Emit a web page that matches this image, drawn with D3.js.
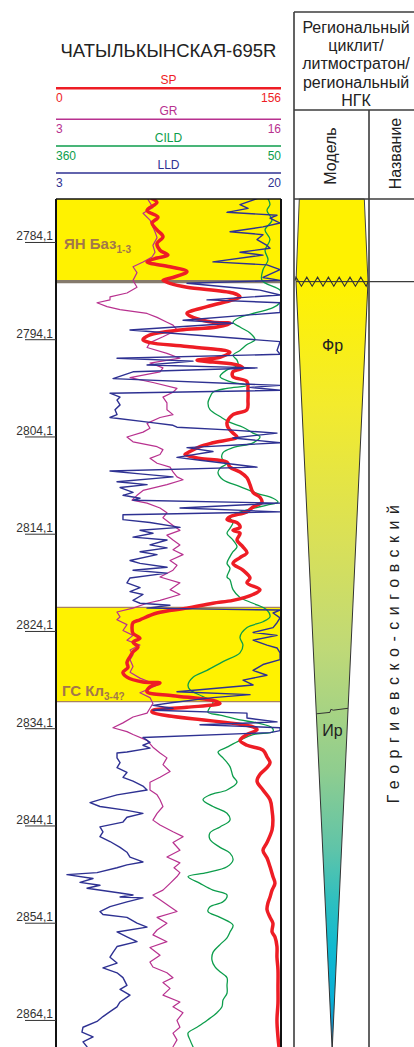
<!DOCTYPE html>
<html>
<head>
<meta charset="utf-8">
<script src="https://cdn.jsdelivr.net/npm/d3@7"></script>
<style>
  html, body { margin: 0; padding: 0; background: #fff; }
  svg { display: block; font-family: "Liberation Sans", Arial, sans-serif; }
</style>
</head>
<body>
<svg id="chart" width="414" height="1047"></svg>
<script>
// ---- Well and log window ----
const wellName = "ЧАТЫЛЬКЫНСКАЯ-695R";
const depthWindow = [2779.63, 2866.83];           // m, top and bottom of the plotted interval
const depthTicks = [2784.1, 2794.1, 2804.1, 2814.1, 2824.1, 2834.1, 2844.1, 2854.1, 2864.1];

// ---- Log curves: names and scale limits (left, right) ----
const logNames = ["SP", "GR", "CILD", "LLD"];
const logLimits = [[0, 156], [3, 16], [360, 50], [3, 20]];

// ---- SP ----
const spDepth = [2779.6, 2780.0, 2780.8, 2781.5, 2782.1, 2782.8, 2783.5, 2784.2, 2784.9, 2785.4, 2785.7, 2786.1, 2786.6, 2787.1, 2787.7, 2788.0, 2788.3, 2788.7, 2789.3, 2789.7, 2790.0, 2790.7, 2791.4, 2791.8, 2792.3, 2792.4, 2792.8, 2793.1, 2793.6, 2794.1, 2794.4, 2794.8, 2795.4, 2795.9, 2796.2, 2796.4, 2796.7, 2797.0, 2797.4, 2797.9, 2798.4, 2799.3, 2800.3, 2801.3, 2801.8, 2802.6, 2803.1, 2803.7, 2804.1, 2804.7, 2805.1, 2805.6, 2805.9, 2806.3, 2806.7, 2807.2, 2807.7, 2808.3, 2809.0, 2809.8, 2810.3, 2810.8, 2811.3, 2811.8, 2812.3, 2812.6, 2812.9, 2813.4, 2813.7, 2814.0, 2814.7, 2815.4, 2816.0, 2816.5, 2817.1, 2817.8, 2818.6, 2819.1, 2819.8, 2820.3, 2820.9, 2821.2, 2821.7, 2822.2, 2822.9, 2823.2, 2823.7, 2824.3, 2824.8, 2825.2, 2825.7, 2826.2, 2826.7, 2827.3, 2827.8, 2828.3, 2828.8, 2829.3, 2829.4, 2829.8, 2830.3, 2830.7, 2831.2, 2831.5, 2831.9, 2832.2, 2832.4, 2833.9, 2834.2, 2834.7, 2835.3, 2835.8, 2836.3, 2837.0, 2837.6, 2838.1, 2838.8, 2839.5, 2840.4, 2841.4, 2842.5, 2843.5, 2844.5, 2845.8, 2846.6, 2847.4, 2848.3, 2849.3, 2850.0, 2850.7, 2851.4, 2852.0, 2852.7, 2853.5, 2854.1, 2855.0, 2855.5, 2856.5, 2857.6, 2858.9, 2860.7, 2862.3, 2864.1, 2865.8, 2866.8];
const spValue = [66.6, 70.0, 63.1, 70.7, 66.6, 70.0, 74.2, 70.0, 72.1, 77.6, 70.0, 63.1, 79.0, 90.8, 81.1, 74.2, 79.0, 90.8, 122.7, 127.6, 122.7, 104.7, 90.8, 95.0, 108.8, 120.6, 111.6, 86.0, 65.2, 60.3, 65.2, 90.8, 120.6, 113.7, 97.8, 108.8, 125.5, 129.6, 122.7, 122.7, 132.4, 133.1, 133.1, 132.4, 122.7, 118.6, 119.2, 122.7, 125.5, 108.8, 99.8, 92.9, 89.4, 99.8, 118.6, 120.6, 127.6, 132.4, 134.5, 136.6, 141.4, 142.8, 136.6, 132.4, 120.6, 118.6, 125.5, 127.6, 122.7, 127.6, 125.5, 129.6, 132.4, 127.6, 122.7, 129.6, 134.5, 132.4, 141.4, 136.6, 122.7, 108.8, 90.8, 70.0, 58.2, 53.4, 52.7, 53.4, 58.2, 53.4, 56.9, 53.4, 51.3, 49.2, 49.9, 46.4, 49.2, 60.3, 72.1, 65.2, 63.1, 81.1, 108.8, 113.7, 90.8, 67.2, 66.6, 136.6, 139.4, 132.4, 127.6, 132.4, 143.5, 146.3, 148.4, 146.3, 141.4, 139.4, 143.5, 148.4, 149.8, 150.4, 149.8, 146.3, 143.5, 146.3, 148.4, 150.4, 151.8, 149.8, 148.4, 147.0, 146.3, 148.4, 150.4, 149.8, 151.8, 153.2, 153.2, 153.9, 153.9, 153.9, 153.2, 153.9, 154.6];

// ---- GR ----
const grDepth = [2779.7, 2780.5, 2781.1, 2781.8, 2782.5, 2783.0, 2783.6, 2784.4, 2785.1, 2785.6, 2786.1, 2786.6, 2787.2, 2788.0, 2788.7, 2789.3, 2789.7, 2790.0, 2790.3, 2790.7, 2791.0, 2791.4, 2791.8, 2792.3, 2792.6, 2793.1, 2793.8, 2794.4, 2794.9, 2795.5, 2796.0, 2796.5, 2797.0, 2797.4, 2798.0, 2798.5, 2799.1, 2799.5, 2800.0, 2800.6, 2801.3, 2801.8, 2802.1, 2802.7, 2803.2, 2803.6, 2804.1, 2804.6, 2805.1, 2805.4, 2805.9, 2806.3, 2806.8, 2807.2, 2807.7, 2808.2, 2808.5, 2809.0, 2809.6, 2810.1, 2810.6, 2810.9, 2811.4, 2811.9, 2812.4, 2813.2, 2813.7, 2814.2, 2814.7, 2815.2, 2815.7, 2816.2, 2816.8, 2817.3, 2817.8, 2818.5, 2819.1, 2819.8, 2820.3, 2820.9, 2821.2, 2821.7, 2822.1, 2822.6, 2822.9, 2823.4, 2824.0, 2824.5, 2825.0, 2825.5, 2826.0, 2826.5, 2827.0, 2827.7, 2828.3, 2828.9, 2829.6, 2830.1, 2830.4, 2830.9, 2831.5, 2832.0, 2832.5, 2832.9, 2833.5, 2834.0, 2834.4, 2834.7, 2835.3, 2836.0, 2836.6, 2837.1, 2837.8, 2838.5, 2839.1, 2839.6, 2840.4, 2840.9, 2841.4, 2842.1, 2842.8, 2843.5, 2844.0, 2844.7, 2845.2, 2845.8, 2846.6, 2847.3, 2847.9, 2848.4, 2848.9, 2849.3, 2850.0, 2850.7, 2851.2, 2851.7, 2852.4, 2852.9, 2853.5, 2854.1, 2854.8, 2855.3, 2856.0, 2856.6, 2857.4, 2858.1, 2858.6, 2859.2, 2859.7, 2860.2, 2860.8, 2861.5, 2862.2, 2862.7, 2863.3, 2864.1, 2864.8, 2865.4, 2866.1, 2866.8];
const grValue = [8.32, 8.60, 8.03, 8.43, 8.60, 8.72, 8.84, 8.60, 8.72, 8.55, 8.03, 7.45, 7.68, 7.45, 7.68, 7.10, 6.12, 6.12, 5.37, 5.95, 6.70, 8.26, 8.84, 9.41, 9.76, 9.99, 9.18, 8.43, 8.26, 9.41, 10.16, 8.43, 9.18, 9.01, 7.28, 8.60, 9.99, 9.76, 9.18, 9.41, 9.41, 9.76, 9.01, 8.26, 8.43, 8.03, 7.10, 7.45, 8.84, 9.18, 9.01, 8.43, 8.84, 9.59, 9.76, 9.99, 10.34, 9.41, 8.03, 7.68, 7.39, 8.26, 9.01, 9.41, 9.18, 9.76, 10.16, 9.41, 9.76, 10.16, 9.76, 10.34, 9.59, 9.99, 9.76, 9.01, 10.16, 9.59, 10.16, 9.01, 8.26, 7.45, 6.52, 6.70, 6.52, 7.10, 6.87, 7.45, 7.10, 7.85, 7.28, 7.45, 7.28, 7.45, 7.28, 7.85, 8.84, 8.26, 7.85, 8.43, 8.60, 8.43, 8.26, 7.45, 6.87, 6.29, 7.10, 7.45, 8.26, 8.60, 9.01, 9.41, 9.18, 9.59, 9.01, 8.43, 8.43, 8.84, 9.01, 9.18, 8.84, 8.60, 9.01, 9.76, 10.34, 9.76, 10.16, 9.41, 10.16, 9.82, 10.16, 9.99, 9.59, 9.18, 8.60, 9.01, 9.59, 9.99, 8.84, 9.41, 8.84, 8.60, 9.41, 8.43, 9.01, 8.43, 8.60, 9.41, 9.76, 9.18, 9.59, 9.18, 10.16, 9.76, 10.34, 9.99, 10.16, 9.76, 9.99, 9.76];

// ---- CILD ----
const cildDepth = [2779.6, 2780.2, 2780.8, 2781.8, 2782.8, 2783.8, 2784.9, 2785.9, 2786.9, 2788.0, 2789.0, 2789.7, 2790.3, 2790.8, 2791.3, 2791.8, 2792.3, 2792.8, 2793.4, 2794.1, 2794.6, 2795.2, 2795.7, 2796.2, 2796.7, 2797.2, 2797.9, 2798.4, 2798.8, 2799.1, 2799.5, 2800.0, 2800.6, 2801.3, 2802.0, 2802.6, 2803.1, 2803.7, 2804.1, 2804.7, 2805.2, 2805.7, 2806.3, 2806.8, 2807.3, 2807.8, 2808.5, 2809.2, 2809.9, 2810.4, 2810.8, 2811.1, 2811.6, 2812.1, 2812.4, 2812.9, 2813.5, 2814.0, 2814.7, 2815.4, 2815.9, 2816.4, 2817.1, 2817.6, 2818.5, 2818.8, 2819.8, 2820.6, 2821.2, 2821.9, 2822.6, 2823.1, 2823.7, 2824.7, 2825.5, 2826.3, 2827.2, 2828.1, 2828.8, 2829.6, 2830.1, 2830.8, 2831.4, 2831.9, 2832.4, 2832.7, 2833.2, 2833.5, 2834.0, 2834.4, 2834.7, 2835.3, 2836.0, 2836.5, 2837.1, 2838.0, 2839.0, 2839.6, 2840.4, 2840.9, 2841.4, 2842.1, 2842.8, 2843.5, 2844.2, 2844.8, 2845.5, 2846.3, 2846.9, 2847.6, 2848.3, 2848.9, 2849.3, 2850.0, 2850.7, 2851.2, 2851.9, 2852.4, 2852.9, 2853.5, 2854.3, 2855.0, 2855.6, 2856.3, 2857.1, 2857.9, 2858.6, 2859.1, 2859.7, 2860.5, 2861.3, 2862.0, 2862.7, 2863.3, 2864.1, 2864.8, 2865.4, 2866.1, 2866.8];
const cildValue = [67.9, 65.2, 69.3, 62.4, 72.0, 65.2, 72.0, 67.9, 74.8, 76.2, 51.4, 48.6, 51.4, 61.0, 83.1, 106.5, 116.1, 106.5, 92.7, 85.8, 96.8, 106.5, 116.1, 110.6, 109.2, 124.4, 134.0, 120.3, 96.8, 124.4, 143.7, 147.8, 150.6, 147.8, 134.0, 120.3, 102.4, 88.6, 78.9, 88.6, 116.1, 129.9, 131.3, 124.4, 134.0, 136.8, 129.9, 106.5, 83.1, 61.0, 54.1, 69.3, 96.8, 116.1, 120.3, 116.1, 120.3, 124.4, 116.1, 110.6, 116.1, 120.3, 124.4, 120.3, 124.4, 120.3, 116.1, 106.5, 88.6, 69.3, 65.2, 74.8, 96.8, 106.5, 102.4, 106.5, 129.9, 152.0, 171.2, 178.1, 175.4, 157.5, 143.7, 147.8, 150.6, 134.0, 106.5, 83.1, 62.4, 61.0, 88.6, 106.5, 124.4, 136.8, 129.9, 120.3, 116.1, 110.6, 124.4, 147.8, 157.5, 143.7, 124.4, 120.3, 134.0, 147.8, 147.8, 134.0, 120.3, 116.1, 124.4, 152.0, 178.1, 161.6, 143.7, 124.4, 129.9, 147.8, 150.6, 134.0, 116.1, 120.3, 124.4, 134.0, 143.7, 145.1, 140.9, 134.0, 124.4, 124.4, 124.4, 129.9, 131.3, 138.2, 152.0, 165.7, 178.1, 175.4, 171.2];

// ---- LLD ----
const lldDepth = [2779.6, 2780.2, 2780.6, 2781.0, 2781.3, 2781.6, 2782.1, 2782.5, 2783.0, 2783.3, 2783.8, 2784.4, 2784.7, 2785.1, 2785.4, 2786.1, 2786.4, 2786.9, 2787.7, 2788.0, 2788.3, 2789.0, 2789.5, 2790.0, 2790.3, 2791.3, 2792.1, 2792.4, 2793.1, 2794.3, 2795.2, 2795.6, 2796.0, 2796.3, 2796.7, 2797.0, 2797.4, 2798.1, 2798.8, 2799.0, 2799.3, 2799.6, 2800.0, 2800.3, 2800.8, 2801.3, 2801.8, 2802.1, 2802.6, 2802.9, 2803.1, 2803.4, 2803.7, 2804.2, 2804.7, 2805.2, 2805.6, 2806.2, 2806.5, 2807.2, 2807.6, 2807.9, 2808.2, 2808.7, 2809.0, 2809.3, 2809.8, 2810.1, 2810.4, 2810.6, 2810.9, 2811.4, 2811.8, 2812.1, 2812.6, 2812.9, 2813.4, 2813.7, 2814.0, 2814.4, 2814.7, 2815.2, 2815.5, 2815.9, 2816.2, 2816.8, 2817.1, 2817.5, 2817.8, 2818.1, 2818.6, 2819.1, 2819.6, 2820.0, 2820.3, 2820.9, 2821.2, 2821.4, 2821.7, 2821.9, 2822.2, 2822.7, 2823.2, 2823.7, 2824.2, 2824.5, 2825.0, 2825.5, 2825.8, 2826.3, 2827.0, 2827.5, 2828.1, 2828.6, 2829.1, 2829.6, 2830.3, 2830.6, 2830.9, 2831.4, 2831.7, 2832.0, 2832.2, 2832.5, 2833.0, 2833.4, 2833.7, 2834.0, 2834.3, 2834.5, 2835.0, 2835.5, 2835.8, 2836.1, 2836.5, 2836.6, 2837.1, 2837.6, 2838.1, 2838.6, 2839.1, 2839.5, 2840.0, 2840.4, 2840.9, 2841.4, 2841.7, 2842.1, 2842.5, 2842.8, 2843.2, 2843.7, 2844.2, 2844.7, 2845.2, 2845.7, 2846.3, 2846.8, 2847.3, 2847.8, 2848.1, 2848.4, 2848.9, 2849.1, 2849.5, 2849.9, 2850.2, 2850.5, 2851.0, 2851.2, 2851.4, 2851.5, 2851.9, 2852.4, 2852.9, 2853.2, 2853.5, 2854.1, 2854.5, 2855.0, 2855.5, 2856.0, 2856.5, 2857.1, 2857.6, 2858.2, 2858.7, 2859.2, 2859.7, 2860.5, 2860.9, 2861.5, 2862.2, 2862.7, 2863.2, 2863.7, 2864.2, 2864.8, 2865.3, 2865.8, 2866.3, 2866.8];
const lldValue = [18.19, 16.90, 17.51, 15.92, 19.70, 19.17, 19.93, 18.64, 16.15, 18.64, 18.19, 18.94, 19.17, 16.90, 18.64, 14.86, 18.94, 19.93, 18.64, 19.93, 12.90, 18.41, 19.93, 14.41, 19.93, 19.93, 12.60, 16.37, 8.59, 19.93, 19.70, 19.93, 7.61, 13.35, 9.88, 18.19, 8.82, 7.31, 19.93, 17.66, 19.93, 7.08, 7.84, 7.61, 7.84, 7.46, 7.61, 7.08, 10.10, 11.84, 12.14, 16.37, 19.70, 16.37, 19.93, 12.90, 14.86, 12.14, 13.88, 18.19, 7.08, 9.35, 11.84, 7.61, 9.88, 7.84, 8.82, 8.06, 9.35, 8.82, 19.93, 12.37, 19.93, 8.06, 8.06, 10.10, 12.37, 9.35, 10.33, 8.82, 11.39, 10.10, 11.39, 9.35, 10.63, 8.59, 9.35, 11.39, 8.82, 11.39, 8.59, 8.36, 9.35, 8.59, 9.57, 8.82, 9.35, 11.61, 9.88, 19.93, 19.40, 19.93, 19.70, 19.40, 17.89, 19.70, 17.89, 18.94, 19.70, 19.93, 19.93, 18.64, 17.89, 18.94, 17.13, 17.89, 12.14, 17.66, 14.86, 11.84, 10.33, 11.84, 10.33, 17.43, 17.43, 19.70, 13.88, 19.93, 19.93, 19.17, 9.57, 10.10, 9.57, 10.10, 8.36, 7.61, 7.61, 7.84, 7.61, 8.36, 8.06, 8.82, 9.57, 9.88, 7.61, 6.32, 5.57, 6.32, 8.36, 9.57, 8.36, 8.06, 6.32, 6.55, 6.32, 7.08, 7.84, 8.36, 8.59, 9.57, 8.36, 7.61, 6.10, 3.83, 5.80, 4.81, 6.32, 5.34, 7.84, 8.82, 7.84, 9.57, 8.36, 7.08, 6.32, 6.55, 8.36, 9.12, 9.88, 7.61, 8.36, 9.12, 7.61, 7.31, 7.08, 7.61, 6.55, 7.61, 8.06, 8.36, 7.84, 8.59, 7.84, 7.61, 7.08, 6.55, 6.10, 5.04, 4.96, 5.80, 5.04, 5.34];

// ---- Marked intervals on the log track ----
const zoneLabels = ["ЯН Баз", "ГС Кл"];
const zoneIndices = ["1-3", "3-4?"];
const zoneTop = [2779.63, 2821.62];
const zoneBottom = [2788.13, 2831.32];

// ---- Regional cyclite column ----
const panelHeader = ["Региональный", "циклит/", "литмостратон/", "региональный", "НГК"];
const subHeaders = ["Модель", "Название"];
const unitNames = ["Фр", "Ир"];
const unitLabelDepth = [2794.6, 2834.2];
const unconformityDepth = 2788.13;   // wavy erosional boundary
const unitBoundaryDepth = 2832.38;   // Фр / Ир
const cycliteName = "Георгиевско-сиговский";

// ---------------------------------------------------------------
const logColors = { SP: "#ee1d25", GR: "#b8318f", CILD: "#0c9d4b", LLD: "#2e3192" };
const logWidths = { SP: 3.5, GR: 1.2, CILD: 1.3, LLD: 1.4 };
const track = { x0: 56, x1: 281, y0: 199, y1: 1047 };
const panel = { x0: 294, xMid: 369, x1: 420, top: 12, head: 110, sub: 199 };

const svg = d3.select("#chart");
const y = d3.scaleLinear().domain(depthWindow).range([track.y0, track.y1]);
const xScales = {};
logNames.forEach((n, i) => {
  xScales[n] = d3.scaleLinear().domain(logLimits[i]).range([track.x0, track.x1]);
});

// title
svg.append("text").attr("x", 168.5).attr("y", 57).attr("text-anchor", "middle")
  .attr("font-size", 18.5).attr("fill", "#222").text(wellName);

// scale headers
const headY = [88.3, 119.3, 146, 173];
logNames.forEach((n, i) => {
  const c = logColors[n];
  const ly = headY[i];
  svg.append("text").attr("x", 168.5).attr("y", ly - 4).attr("text-anchor", "middle")
    .attr("font-size", 12).attr("fill", c).text(n);
  svg.append("line").attr("x1", track.x0).attr("x2", track.x1).attr("y1", ly).attr("y2", ly)
    .attr("stroke", c).attr("stroke-width", n === "SP" ? 2.6 : 1.6);
  svg.append("text").attr("x", track.x0).attr("y", ly + 14).attr("font-size", 12)
    .attr("fill", c).text(logLimits[i][0]);
  svg.append("text").attr("x", track.x1).attr("y", ly + 14).attr("font-size", 12)
    .attr("text-anchor", "end").attr("fill", c).text(logLimits[i][1]);
});

// marked intervals
const zoneG = svg.append("g");
zoneTop.forEach((t, i) => {
  const yt = y(t), yb = y(zoneBottom[i]);
  zoneG.append("rect").attr("x", track.x0).attr("y", yt).attr("width", track.x1 - track.x0)
    .attr("height", yb - yt).attr("fill", "#fff200");
  if (i > 0) {
    zoneG.append("line").attr("x1", track.x0).attr("x2", track.x1).attr("y1", yt).attr("y2", yt)
      .attr("stroke", "#a8825e").attr("stroke-width", 1.3);
  }
  zoneG.append("line").attr("x1", track.x0).attr("x2", track.x1).attr("y1", yb).attr("y2", yb)
    .attr("stroke", i === 0 ? "#857a6c" : "#a8825e").attr("stroke-width", i === 0 ? 3.2 : 1.3);
});

// log curves
const clip = svg.append("clipPath").attr("id", "trackClip");
clip.append("rect").attr("x", track.x0).attr("y", track.y0)
  .attr("width", track.x1 - track.x0).attr("height", track.y1 - track.y0);
const curveG = svg.append("g").attr("clip-path", "url(#trackClip)");

function drawLog(name, depths, values, curve) {
  const pts = depths.map((d, i) => [d, values[i]]);
  const line = d3.line().x(p => xScales[name](p[1])).y(p => y(p[0])).curve(curve);
  curveG.append("path").datum(pts).attr("d", line).attr("fill", "none")
    .attr("stroke", logColors[name]).attr("stroke-width", logWidths[name])
    .attr("stroke-linejoin", "round").attr("stroke-linecap", "round");
}
drawLog("GR", grDepth, grValue, d3.curveLinear);
drawLog("CILD", cildDepth, cildValue, d3.curveCatmullRom.alpha(0.5));
drawLog("SP", spDepth, spValue, d3.curveCatmullRom.alpha(0.5));
drawLog("LLD", lldDepth, lldValue, d3.curveLinear);

// zone labels
zoneTop.forEach((t, i) => {
  const ty = i === 0 ? 248.5 : y(zoneBottom[i]) - 6;
  const txt = svg.append("text").attr("x", i === 0 ? 64 : 62).attr("y", ty)
    .attr("font-size", 15).attr("font-weight", "bold").attr("fill", "#a3774a");
  txt.append("tspan").text(zoneLabels[i]);
  txt.append("tspan").attr("font-size", 10).attr("dy", 4).text(zoneIndices[i]);
});

// track frame
svg.append("line").attr("x1", track.x0).attr("x2", track.x1).attr("y1", track.y0).attr("y2", track.y0)
  .attr("stroke", "#111").attr("stroke-width", 1.6);
[track.x0, track.x1].forEach(x => {
  svg.append("line").attr("x1", x).attr("x2", x).attr("y1", track.y0).attr("y2", track.y1)
    .attr("stroke", "#111").attr("stroke-width", 2);
});

// depth axis: underlined labels to the left of the track
const depthAxis = svg.append("g");
depthAxis.selectAll("line").data(depthTicks).join("line")
  .attr("x1", 25).attr("x2", track.x0).attr("y1", d => y(d)).attr("y2", d => y(d))
  .attr("stroke", "#333").attr("stroke-width", 1);
depthAxis.selectAll("text").data(depthTicks).join("text")
  .attr("x", 53).attr("y", d => y(d) - 2).attr("text-anchor", "end")
  .attr("font-size", 12).attr("fill", "#333")
  .text(d => d.toFixed(1).replace(".", ","));

// ---- regional cyclite panel ----
const pStroke = "#3c3c3c";
const P = svg.append("g");

// model wedge: upper part widening down to the unconformity, lower part tapering to the base
const yU = y(unconformityDepth);
const defs = svg.append("defs");
const grad = defs.append("linearGradient").attr("id", "wedgeGrad")
  .attr("gradientUnits", "userSpaceOnUse").attr("x1", 0).attr("x2", 0)
  .attr("y1", yU).attr("y2", track.y1);
[[0, "#fff200"], [0.16, "#f3eb2c"], [0.34, "#d9e058"], [0.48, "#bfd977"],
 [0.64, "#8fcd8f"], [0.74, "#60c4a8"], [0.81, "#2ebfc0"], [0.87, "#10b9d0"],
 [0.94, "#0aaed6"], [1, "#1878bd"]]
  .forEach(s => grad.append("stop").attr("offset", s[0]).attr("stop-color", s[1]));

const wedgeTop = [[299.3, track.y0], [364.3, track.y0], [368, yU], [296, yU]];
P.append("path").attr("d", d3.line()(wedgeTop) + "Z").attr("fill", "#fff200")
  .attr("stroke", "#444").attr("stroke-width", 1);
const wedgeLow = [[296, yU], [368, yU], [332.3, track.y1], [332, track.y1]];
P.append("path").attr("d", d3.line()(wedgeLow) + "Z").attr("fill", "url(#wedgeGrad)")
  .attr("stroke", "#333").attr("stroke-width", 1);

// wavy unconformity
const zig = d3.range(0, 14).map(k => [296 + k * 5.4, yU + (k % 2 === 0 ? -4.5 : 4.5)]);
zig.unshift([295, yU - 1]);
zig.push([368.5, yU - 1]);
P.append("path").attr("d", d3.line()(zig)).attr("fill", "none")
  .attr("stroke", "#333").attr("stroke-width", 1.1);

// Фр / Ир boundary with a small step
const yB = y(unitBoundaryDepth);
const lerpL = yy => 296 + (332.2 - 296) * (yy - yU) / (track.y1 - yU);
const lerpR = yy => 368 - (368 - 332.2) * (yy - yU) / (track.y1 - yU);
P.append("path").attr("d", d3.line()([
  [lerpL(yB + 1.8), yB + 1.8], [330, yB + 0.4], [330.8, yB - 2.6], [333.3, yB - 1.8], [lerpR(yB - 3.7), yB - 3.7]
])).attr("fill", "none").attr("stroke", "#333").attr("stroke-width", 1);

unitNames.forEach((n, i) => {
  P.append("text").attr("x", 332.5).attr("y", y(unitLabelDepth[i]) + 6)
    .attr("text-anchor", "middle").attr("font-size", 16).attr("fill", "#222").text(n);
});

// panel frame
P.append("line").attr("x1", panel.x0).attr("x2", panel.x0).attr("y1", panel.top).attr("y2", track.y1)
  .attr("stroke", pStroke).attr("stroke-width", 1.6);
P.append("line").attr("x1", panel.xMid).attr("x2", panel.xMid).attr("y1", panel.head).attr("y2", track.y1)
  .attr("stroke", pStroke).attr("stroke-width", 1.6);
[panel.top, panel.head, panel.sub].forEach(yy => {
  P.append("line").attr("x1", panel.x0).attr("x2", panel.x1).attr("y1", yy).attr("y2", yy)
    .attr("stroke", pStroke).attr("stroke-width", 1.6);
});
P.append("line").attr("x1", panel.xMid).attr("x2", panel.x1).attr("y1", yU).attr("y2", yU)
  .attr("stroke", pStroke).attr("stroke-width", 1.4);

// header text
panelHeader.forEach((t, i) => {
  P.append("text").attr("x", 356).attr("y", 32.5 + i * 18.4).attr("text-anchor", "middle")
    .attr("font-size", 16).attr("fill", "#222").text(t);
});
P.append("text").attr("transform", "translate(336,156) rotate(-90)")
  .attr("text-anchor", "middle").attr("font-size", 16).attr("fill", "#222").text(subHeaders[0]);
P.append("text").attr("transform", "translate(400.5,153.5) rotate(-90)")
  .attr("text-anchor", "middle").attr("font-size", 16).attr("fill", "#222").text(subHeaders[1]);

// cyclite name, spaced out along the column
P.append("text").attr("transform", "translate(399,651) rotate(-90)")
  .attr("text-anchor", "middle").attr("font-size", 16).attr("letter-spacing", 6.5)
  .attr("fill", "#222").text(cycliteName);
</script>
</body>
</html>
